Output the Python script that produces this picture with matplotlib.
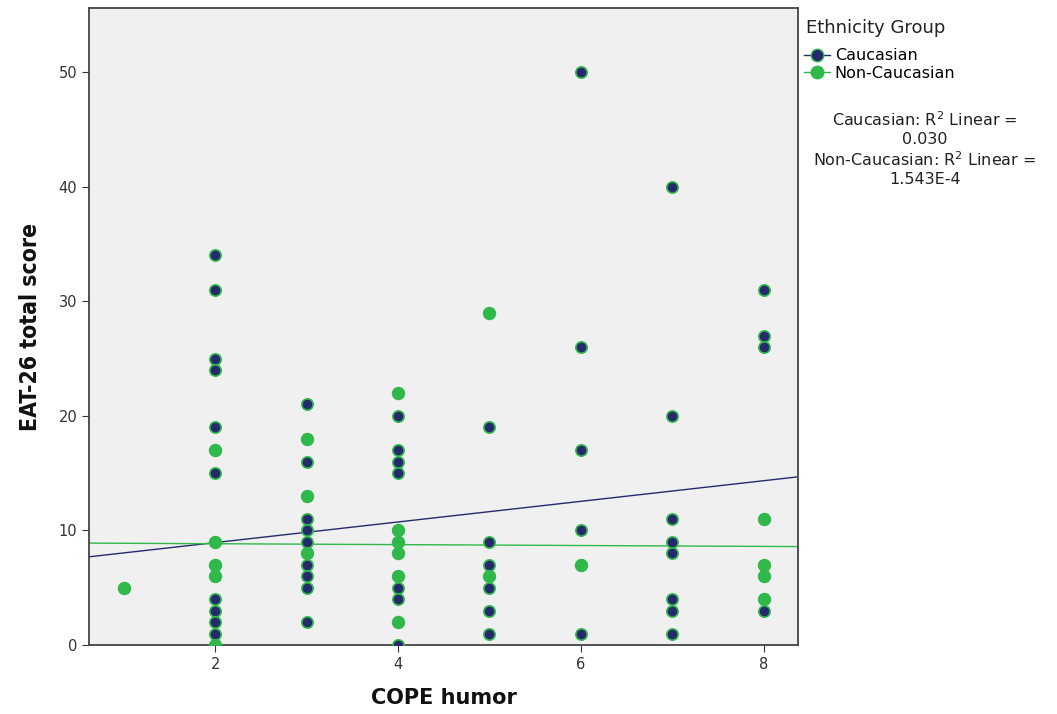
import matplotlib
matplotlib.use('Agg')
import matplotlib.pyplot as plt
import numpy as np
from matplotlib.lines import Line2D

# COPE humor (x) vs EAT-26 total score (y), by ethnicity group
cau_x = [2]*10 + [3]*9 + [4]*7 + [5]*6 + [6]*5 + [7]*8 + [8]*4
cau_y = [34, 31, 25, 24, 19, 15, 4, 3, 2, 1,
         21, 16, 11, 10, 9, 7, 6, 5, 2,
         20, 17, 16, 15, 5, 4, 0,
         19, 9, 7, 5, 3, 1,
         50, 26, 17, 10, 1,
         40, 20, 11, 9, 8, 4, 3, 1,
         31, 27, 26, 3]

non_x = [1] + [2]*5 + [3]*3 + [4]*6 + [5]*2 + [6] + [8]*4
non_y = [5,
         17, 9, 7, 6, 0,
         18, 13, 8,
         22, 10, 9, 8, 6, 2,
         29, 6,
         7,
         11, 7, 6, 4]

# fit lines (intercept, slope)
cau_fit = [7.14, 0.90]
non_fit = [8.92, -0.039]

navy = '#262A6C'
green = '#30B84A'

fig = plt.figure(figsize=(10.57, 7.14), dpi=100)
ax = fig.add_axes([0.0842, 0.0966, 0.6710, 0.8922])
ax.set_facecolor('#F0F0F0')

xlim = (0.62, 8.38)
xs = np.array(xlim)
ax.plot(xs, cau_fit[0] + cau_fit[1] * xs, color=navy, lw=1.0, zorder=2)
ax.plot(xs, non_fit[0] + non_fit[1] * xs, color=green, lw=1.0, zorder=2)

ax.scatter(cau_x, cau_y, s=66, color=navy, edgecolors=green, linewidths=1.2, zorder=3)
ax.scatter(non_x, non_y, s=78, color=green, edgecolors=green, linewidths=0.8, zorder=4)

ax.set_xlim(*xlim)
ax.set_ylim(0, 55.6)
ax.set_xticks([2, 4, 6, 8])
ax.set_yticks([0, 10, 20, 30, 40, 50])
ax.tick_params(labelsize=10.5, length=5, color='#333333', labelcolor='#333333')
for s in ax.spines.values():
    s.set_color('#444444')
    s.set_linewidth(1.3)

ax.set_xlabel('COPE humor', fontsize=15, fontweight='bold', labelpad=12, color='#111111')
ax.set_ylabel('EAT-26 total score', fontsize=16.5, fontweight='bold', labelpad=12,
              fontstretch='condensed', color='#111111')

# legend
fig.text(806 / 1057, 1 - 28 / 714, 'Ethnicity Group', fontsize=13, va='center', ha='left', color='#222222')
handles = [Line2D([0], [0], color=navy, lw=1, marker='o', ms=9, mfc=navy, mec=green),
           Line2D([0], [0], color=green, lw=1, marker='o', ms=9, mfc=green, mec=green)]
fig.legend(handles, ['Caucasian', 'Non-Caucasian'], loc='upper left',
           bbox_to_anchor=(798 / 1057, 1 - 42 / 714), frameon=False, fontsize=11.5,
           handlelength=1.6, handletextpad=0.3, labelspacing=0.15, borderaxespad=0)

r2_lines = ['Caucasian: R$^2$ Linear =', '0.030',
            'Non-Caucasian: R$^2$ Linear =', '1.543E-4']
for i, t in enumerate(r2_lines):
    fig.text(925 / 1057, 1 - (120 + 20 * i) / 714, t, fontsize=11.5, ha='center', va='center', color='#222222')

fig.savefig('out.png', dpi=100)
